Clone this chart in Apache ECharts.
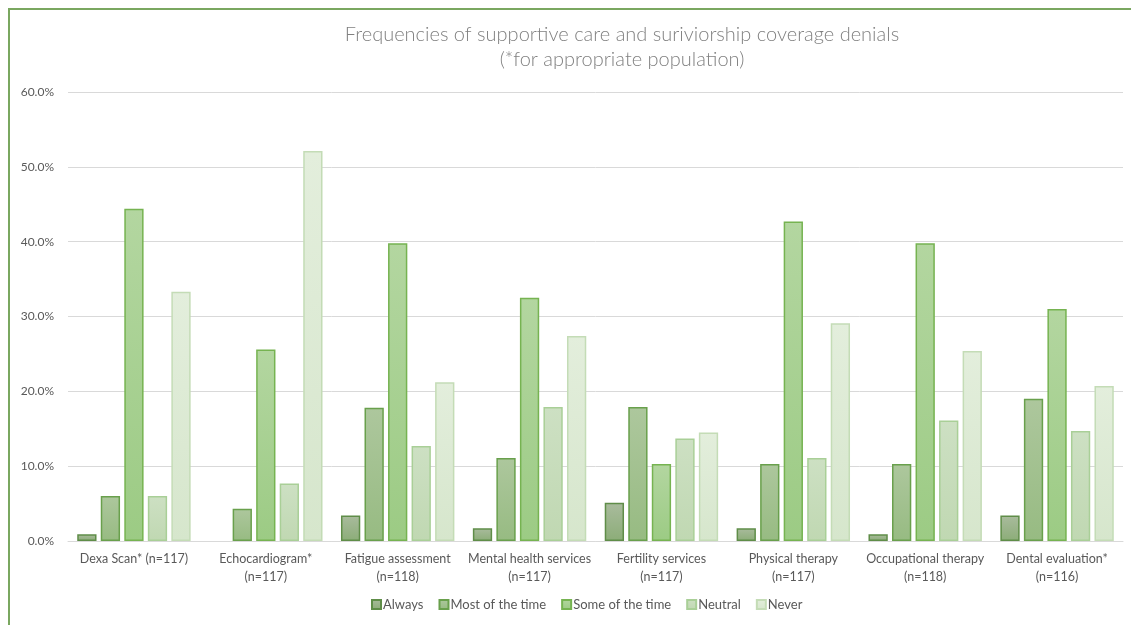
<!DOCTYPE html>
<html>
<head>
<meta charset="utf-8">
<script src="https://cdn.jsdelivr.net/npm/echarts@6/dist/echarts.min.js"></script>
<style>
  html, body { margin: 0; padding: 0; background: #fff; }
  #frame { position: absolute; left: 8px; top: 8px; width: 1123px; height: 617px; box-sizing: border-box; border-left: 2px solid #7aa760; border-top: 2px solid #7aa760; }
  #chart { width: 1131px; height: 625px; }
</style>
</head>
<body>
<div id="frame"></div>
<div id="chart"></div>
<script>
const categories = [
  'Dexa Scan* (n=117)', 'Echocardiogram*\n(n=117)', 'Fatigue assessment\n(n=118)',
  'Mental health services\n(n=117)', 'Fertility services\n(n=117)', 'Physical therapy\n(n=117)',
  'Occupational therapy\n(n=118)', 'Dental evaluation*\n(n=116)',
]
const seriesNames = ['Always', 'Most of the time', 'Some of the time', 'Neutral', 'Never']
const always = [0.9, 0, 3.4, 1.7, 5.1, 1.7, 0.9, 3.4]
const mostOfTheTime = [6.0, 4.3, 17.8, 11.1, 17.9, 10.3, 10.3, 19.0]
const someOfTheTime = [44.4, 25.6, 39.8, 32.5, 10.3, 42.7, 39.8, 31.0]
const neutral = [6.0, 7.7, 12.7, 17.9, 13.7, 11.1, 16.1, 14.7]
const never = [33.3, 52.1, 21.2, 27.4, 14.5, 29.1, 25.4, 20.7]
const yTicks = [0, 10, 20, 30, 40, 50, 60]

const values = [always, mostOfTheTime, someOfTheTime, neutral, never]
const fills = [
  ['#a9bb9d', '#8cad78'],
  ['#adc79d', '#97bb82'],
  ['#b3d6a0', '#9ccb84'],
  ['#cde0c3', '#c0d8b2'],
  ['#e3eedc', '#d6e6cc'],
]
const borders = ['#5f8d48', '#69a04c', '#76b351', '#a9cf97', '#c4dcb6']

const chart = echarts.init(document.getElementById('chart'))
chart.setOption({
  animation: false,
  backgroundColor: 'transparent',
  textStyle: { fontFamily: 'Lato, sans-serif' },
  title: {
    text: 'Frequencies of supportive care and suriviorship coverage denials\n(*for appropriate population)',
    left: 617,
    top: 17,
    textAlign: 'center',
    textStyle: { color: '#808080', fontSize: 20, fontWeight: 300, lineHeight: 25 },
  },
  legend: {
    bottom: 9,
    left: 366,
    itemWidth: 9,
    itemHeight: 9,
    itemGap: 15,
    icon: 'rect',
    textStyle: { color: '#595959', fontSize: 13, padding: [0, 0, 0, -3] },
  },
  grid: { left: 68, right: 8, top: 92, bottom: 84 },
  xAxis: {
    type: 'category',
    data: categories,
    axisLine: { lineStyle: { color: '#d9d9d9', width: 1 } },
    axisTick: { show: false },
    axisLabel: { color: '#595959', fontSize: 12.5, lineHeight: 18, margin: 9, interval: 0 },
  },
  yAxis: {
    type: 'value',
    min: yTicks[0],
    max: yTicks[yTicks.length - 1],
    interval: 10,
    axisLine: { show: false },
    axisTick: { show: false },
    axisLabel: { color: '#595959', fontSize: 12, margin: 14, formatter: (v) => v.toFixed(1) + '%' },
    splitLine: { lineStyle: { color: '#d9d9d9' } },
  },
  series: seriesNames.map((name, i) => ({
    name,
    type: 'bar',
    data: values[i].map((v) => (v === 0 ? { value: v, itemStyle: { borderWidth: 0 } } : v)),
    barGap: '22%',
    barCategoryGap: '14%',
    itemStyle: {
      color: new echarts.graphic.LinearGradient(0, 0, 0, 1, [
        { offset: 0, color: fills[i][0] },
        { offset: 1, color: fills[i][1] },
      ]),
      borderColor: borders[i],
      borderWidth: 1.5,
    },
  })),
})
</script>
</body>
</html>
